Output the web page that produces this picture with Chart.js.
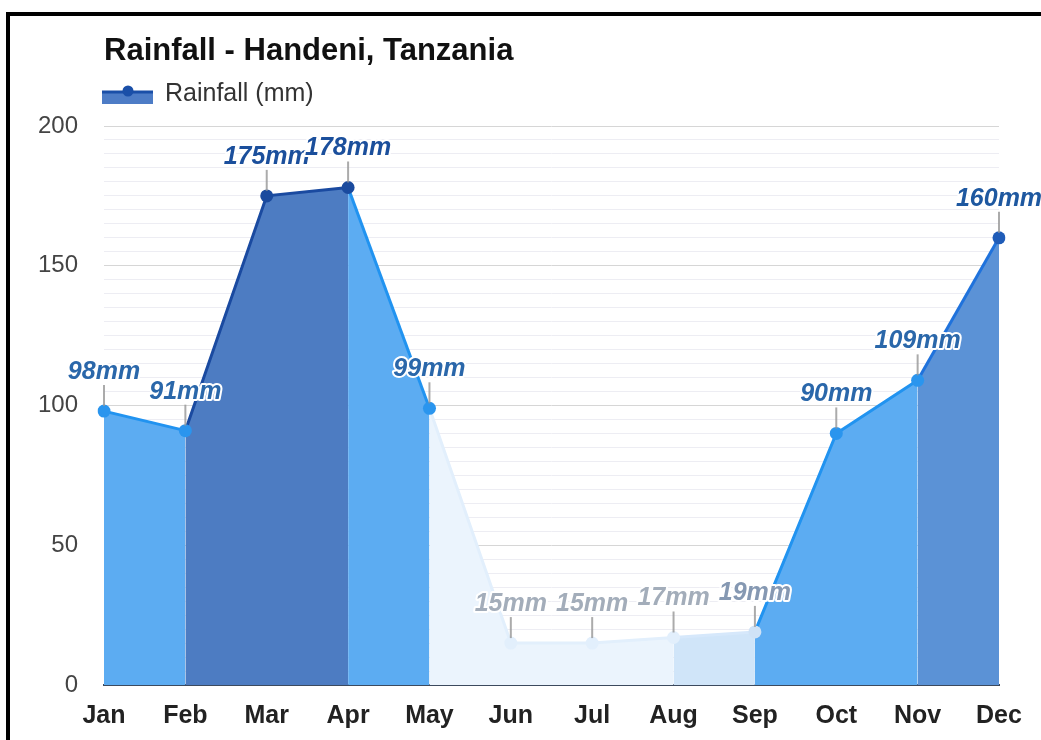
<!DOCTYPE html>
<html>
<head>
<meta charset="utf-8">
<script src="https://cdn.jsdelivr.net/npm/chart.js@4.4.1/dist/chart.umd.min.js"></script>
<style>
  html, body { margin: 0; padding: 0; background: #ffffff; }
  #wrap { position: relative; width: 1041px; height: 740px; overflow: hidden; }
  #frame { position: absolute; left: 6px; top: 12px; right: 0; bottom: 0; border-top: 4px solid #000; border-left: 4px solid #000; pointer-events: none; }
  canvas { position: absolute; left: 0; top: 0; }
</style>
</head>
<body>
<div id="wrap">
  <canvas id="c" width="1041" height="740"></canvas>
  <div id="frame"></div>
</div>
<script>
// ---- data ----
const months = ["Jan","Feb","Mar","Apr","May","Jun","Jul","Aug","Sep","Oct","Nov","Dec"];
const rainfall = [98, 91, 175, 178, 99, 15, 15, 17, 19, 90, 109, 160];
const yTickLabels = [0, 50, 100, 150, 200];
const titleText = "Rainfall - Handeni, Tanzania";
const legendText = "Rainfall (mm)";

// ---- styles ----
const FONT = "'Liberation Sans', Arial, Helvetica, sans-serif";
// segment i goes from point i to point i+1
const segFill = ["#5cacf2", "#4d7cc2", "#4d7cc2", "#5cacf2", "#ebf4fd", "#ebf4fd", "#ebf4fd", "#d0e5f9", "#5cacf2", "#5cacf2", "#5b92d6"];
const segLine = ["#2193f0", "#1a4aa0", "#1a4aa0", "#2193f0", "#e2effc", "#e2effc", "#e2effc", "#d6e8fb", "#2193f0", "#2193f0", "#1f72dc"];
const pointColors = ["#2a95ee", "#2a95ee", "#1a4a9e", "#1a4a9e", "#2a95ee", "#e2effc", "#e2effc", "#e2effc", "#cfe2f6", "#2a95ee", "#2a95ee", "#1f5cb8"];
const labelColors = ["#2a67aa", "#2a67aa", "#1b4f9c", "#1b4f9c", "#2a67aa", "#a3adba", "#a3adba", "#a3adba", "#8598b2", "#2a67aa", "#2a67aa", "#1e58a0"];

const labelPlugin = {
  id: 'valueLabels',
  afterDatasetsDraw(chart) {
    const ctx = chart.ctx;
    const meta = chart.getDatasetMeta(0);
    ctx.save();
    meta.data.forEach((pt, i) => {
      const x = pt.x, y = pt.y;
      ctx.strokeStyle = 'rgba(150,150,150,0.8)';
      ctx.lineWidth = 2;
      ctx.beginPath();
      ctx.moveTo(x, y - 5);
      ctx.lineTo(x, y - 26);
      ctx.stroke();
      ctx.font = "italic bold 25px " + FONT;
      ctx.textAlign = 'center';
      ctx.textBaseline = 'middle';
      const t = rainfall[i] + 'mm';
      ctx.lineJoin = 'round';
      ctx.strokeStyle = '#ffffff';
      ctx.lineWidth = 4;
      ctx.strokeText(t, x, y - 39);
      ctx.fillStyle = labelColors[i];
      ctx.fillText(t, x, y - 39);
    });
    ctx.restore();
  },
  afterDraw(chart) {
    const ctx = chart.ctx;
    const left = chart.chartArea.left;
    ctx.save();
    ctx.font = "bold 31px " + FONT;
    ctx.fillStyle = '#111111';
    ctx.textAlign = 'left';
    ctx.textBaseline = 'alphabetic';
    ctx.fillText(titleText, left, 60);
    ctx.fillStyle = '#4d7cc6';
    ctx.fillRect(102, 92, 51, 12);
    ctx.strokeStyle = '#1a4fa8';
    ctx.lineWidth = 3;
    ctx.beginPath();
    ctx.moveTo(102, 92);
    ctx.lineTo(153, 92);
    ctx.stroke();
    ctx.fillStyle = '#1a4fa8';
    ctx.beginPath();
    ctx.arc(128, 91, 5.5, 0, Math.PI * 2);
    ctx.fill();
    ctx.font = "25px " + FONT;
    ctx.fillStyle = '#333333';
    ctx.textBaseline = 'middle';
    ctx.fillText(legendText, 165, 94);
    ctx.restore();
  }
};

new Chart(document.getElementById('c'), {
  type: 'line',
  data: {
    labels: months,
    datasets: [{
      label: legendText,
      data: rainfall,
      fill: 'origin',
      tension: 0,
      borderWidth: 3,
      borderColor: '#2193f0',
      backgroundColor: '#5cacf2',
      pointRadius: 6.5,
      pointHoverRadius: 6.5,
      pointBorderWidth: 0,
      pointBackgroundColor: pointColors,
      pointBorderColor: pointColors,
      segment: {
        borderColor: c => segLine[c.p0DataIndex],
        backgroundColor: c => segFill[c.p0DataIndex]
      }
    }]
  },
  options: {
    responsive: false,
    animation: false,
    devicePixelRatio: 1,
    layout: { padding: { top: 126, right: 42, bottom: 0, left: 0 } },
    plugins: {
      legend: { display: false },
      title: { display: false },
      tooltip: { enabled: false }
    },
    scales: {
      x: {
        type: 'category',
        offset: false,
        grid: { display: false, drawTicks: false },
        border: { display: true, color: '#3c4a5e', width: 2 },
        ticks: {
          color: '#222222',
          font: { family: FONT, size: 25, weight: 'bold' },
          padding: 16,
          maxRotation: 0,
          autoSkip: false
        },
        afterFit: s => { s.height = 55; }
      },
      y: {
        min: 0,
        max: 200,
        grid: {
          drawTicks: false,
          color: c => (c.tick && yTickLabels.includes(c.tick.value)) ? '#d6d6d6' : '#ededf3',
          lineWidth: 1
        },
        border: { display: false },
        ticks: {
          stepSize: 5,
          autoSkip: false,
          padding: 26,
          color: '#444444',
          font: { family: FONT, size: 24 },
          callback: v => yTickLabels.includes(v) ? String(v) : ''
        },
        afterFit: s => { s.width = 104; }
      }
    }
  },
  plugins: [labelPlugin]
});
</script>
</body>
</html>
